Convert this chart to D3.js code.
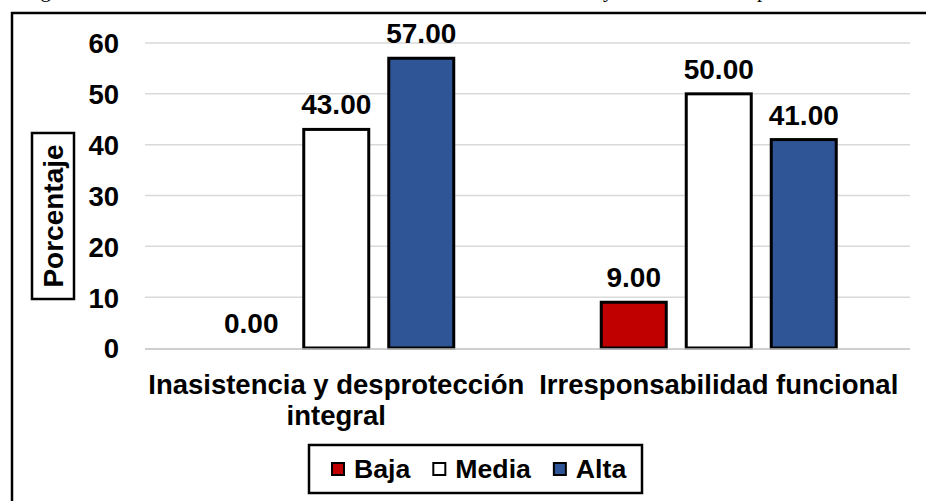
<!DOCTYPE html>
<html>
<head>
<meta charset="utf-8">
<script src="https://cdn.jsdelivr.net/npm/d3@7"></script>
<style>
  html, body { margin: 0; padding: 0; background: #fff; }
  svg { display: block; }
  text { font-family: "Liberation Sans", Arial, sans-serif; font-weight: bold; fill: #000; }
</style>
</head>
<body>
<svg id="chart" width="926" height="501"></svg>
<script>
const categories = ["Inasistencia y desprotección integral", "Irresponsabilidad funcional"];
const categoryLines = [["Inasistencia y desprotección", "integral"], ["Irresponsabilidad funcional"]];
const seriesNames = ["Baja", "Media", "Alta"];
const seriesColors = ["#C00000", "#FFFFFF", "#2F5597"];
const baja  = [0, 9];
const media = [43, 50];
const alta  = [57, 41];
const yTicks = [0, 10, 20, 30, 40, 50, 60];
const yTitle = "Porcentaje";
const captionParts = ["Figura 9. Nivel de la dimensión abandono del niño en la familia", "y de la dimensión", "por ítem"];

const seriesValues = [baja, media, alta];
const data = categories.map((c, i) => ({
  cat: c, lines: categoryLines[i],
  vals: seriesNames.map((s, j) => ({ key: s, value: seriesValues[j][i], color: seriesColors[j] }))
}));

const svg = d3.select("#chart");
const FS = 27.5;
const LFS = 26.67;

// caption (cut off at top, as in the source image)
const cap = svg.append("text").attr("y", -3)
  .style("font-family", "'Liberation Serif','Times New Roman',serif")
  .style("font-weight", "normal").style("font-size", "21px");
cap.append("tspan").attr("x", 23).text(captionParts[0]);
cap.append("tspan").attr("x", 603).text(captionParts[1]);
cap.append("tspan").attr("x", 757).text(captionParts[2]);

// outer frame
svg.append("line").attr("x1", 11).attr("x2", 926).attr("y1", 13).attr("y2", 13)
  .attr("stroke", "#000").attr("stroke-width", 2.5);
svg.append("line").attr("x1", 12).attr("x2", 12).attr("y1", 12).attr("y2", 501)
  .attr("stroke", "#000").attr("stroke-width", 2.5);

const plotL = 145, plotR = 910;
const y = d3.scaleLinear().domain([0, 60]).range([348, 43]);
const x0 = d3.scaleBand().domain(categories).range([plotL, plotR]).padding(0);
const x1 = d3.scaleBand().domain(seriesNames).range([0, x0.bandwidth()])
  .paddingInner(0.2).paddingOuter(0.85);

// gridlines
svg.append("g").selectAll("line").data(yTicks.filter(t => t > 0)).join("line")
  .attr("x1", plotL).attr("x2", plotR)
  .attr("y1", d => y(d)).attr("y2", d => y(d))
  .attr("stroke", "#D9D9D9").attr("stroke-width", 1.5);

// y axis labels
const yAxis = d3.axisLeft(y).tickValues(yTicks).tickSize(0).tickPadding(0).tickFormat(d3.format("d"));
const yg = svg.append("g").attr("transform", "translate(119,0)").call(yAxis);
yg.select(".domain").remove();
yg.selectAll("text").style("font-size", FS + "px").style("font-family", "'Liberation Sans',Arial,sans-serif")
  .style("font-weight", "bold").attr("dy", "0.36em");

// bars
const groups = svg.append("g").selectAll("g").data(data).join("g")
  .attr("transform", d => `translate(${x0(d.cat)},0)`);
groups.selectAll("rect").data(d => d.vals.filter(v => v.value > 0)).join("rect")
  .attr("x", d => x1(d.key) + 1.5)
  .attr("width", x1.bandwidth() - 3)
  .attr("y", d => y(d.value))
  .attr("height", d => y(0) - y(d.value))
  .attr("fill", d => d.color)
  .attr("stroke", "#000").attr("stroke-width", 3);

// baseline
svg.append("line").attr("x1", plotL).attr("x2", plotR).attr("y1", y(0) + 1).attr("y2", y(0) + 1)
  .attr("stroke", "#BFBFBF").attr("stroke-width", 1.5);

// data labels
groups.selectAll("text.val").data(d => d.vals).join("text").attr("class", "val")
  .attr("x", d => x1(d.key) + x1.bandwidth() / 2)
  .attr("y", d => y(d.value) - 15)
  .attr("text-anchor", "middle").style("font-size", "28px")
  .text(d => d3.format(".2f")(d.value));

// category labels
groups.each(function(d) {
  const g = d3.select(this);
  d.lines.forEach((ln, i) => {
    g.append("text").attr("x", x0.bandwidth() / 2).attr("y", 394 + i * 31)
      .attr("text-anchor", "middle").style("font-size", FS + "px").text(ln);
  });
});

// y title box
const tg = svg.append("g").attr("transform", "translate(53,216) rotate(-90)");
tg.append("rect").attr("x", -83).attr("y", -21).attr("width", 166).attr("height", 42)
  .attr("fill", "#fff").attr("stroke", "#000").attr("stroke-width", 2.5);
tg.append("text").attr("text-anchor", "middle").attr("dy", "0.35em")
  .style("font-size", "28px").text(yTitle);

// legend
const lg = svg.append("g");
lg.append("rect").attr("x", 309).attr("y", 445).attr("width", 333).attr("height", 48)
  .attr("fill", "#fff").attr("stroke", "#000").attr("stroke-width", 2.5);
let lx = 332;
seriesNames.forEach((s, i) => {
  lg.append("rect").attr("x", lx).attr("y", 463).attr("width", 12).attr("height", 12)
    .attr("fill", seriesColors[i]).attr("stroke", "#000").attr("stroke-width", 2);
  const t = lg.append("text").attr("x", lx + 22).attr("y", 469).attr("dy", "0.35em")
    .style("font-size", LFS + "px").text(s);
  lx += 22 + t.node().getComputedTextLength() + 23;
});
</script>
</body>
</html>
